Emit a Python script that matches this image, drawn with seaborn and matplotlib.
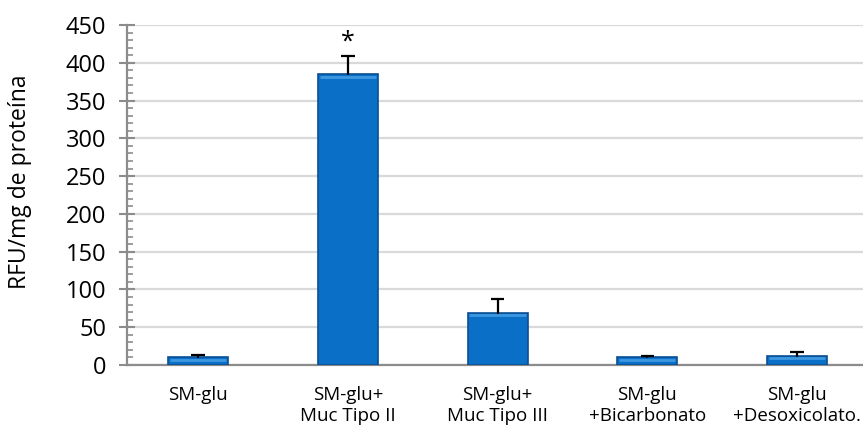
import matplotlib
matplotlib.use("Agg")
import matplotlib.pyplot as plt
import matplotlib.transforms as mtransforms
from matplotlib.ticker import MultipleLocator
import numpy as np
import pandas as pd
import seaborn as sns

# Medium conditions and measured fluorescence (mean and upper error)
categories = ["SM-glu", "SM-glu+\nMuc Tipo II", "SM-glu+\nMuc Tipo III",
              "SM-glu\n+Bicarbonato", "SM-glu\n+Desoxicolato."]
means = [10, 385, 69, 10, 12]
errors = [3, 24, 19, 2, 5]
marks = ["", "*", "", "", ""]

sns.set_theme(style="white")
plt.rcParams["font.family"] = ["Open Sans", "DejaVu Sans"]

df = pd.DataFrame({"cond": categories, "rfu": means})

fig = plt.figure(figsize=(8.63, 4.28), dpi=100)
ax = fig.add_axes([127 / 863, 63 / 428, (863 - 127) / 863, 340 / 428])

bar_color = "#0a6fc6"
sns.barplot(data=df, x="cond", y="rfu", color=bar_color, saturation=1,
            width=0.4, edgecolor="#0b4f93", linewidth=1.2, ax=ax, zorder=3)

# soft bevel highlight along the top of each bar
for p in ax.patches:
    x0, x1 = p.get_x(), p.get_x() + p.get_width()
    top = p.get_y() + p.get_height()
    off = mtransforms.offset_copy(ax.transData, fig=fig, x=0, y=-2.5, units="dots")
    ax.plot([x0 + 0.012, x1 - 0.012], [top, top], color="#3d98e0", lw=2.0,
            solid_capstyle="butt", transform=off, zorder=4)

# one-sided (upper) error bars starting at the bar top
xs = np.arange(len(categories))
cap = 0.045
for x, m, e in zip(xs, means, errors):
    ax.plot([x, x], [m, m + e], color="black", lw=1.6, zorder=5)
    ax.plot([x - cap, x + cap], [m + e, m + e], color="black", lw=1.6,
            solid_capstyle="butt", zorder=5)

for x, m, e, s in zip(xs, means, errors, marks):
    if s:
        ax.text(x, m + e + 2, s, ha="center", va="bottom", fontsize=18,
                color="black", zorder=6)

ax.set_ylim(0, 450)
ax.set_xlim(-0.474, 4.44)
ax.yaxis.set_major_locator(MultipleLocator(50))
ax.yaxis.set_minor_locator(MultipleLocator(10))
ax.grid(axis="y", which="major", color="#d9d9d9", lw=1.6, zorder=0)
ax.set_axisbelow(True)

for side in ["top", "right"]:
    ax.spines[side].set_visible(False)
for side in ["left", "bottom"]:
    ax.spines[side].set_color("#8c8c8c")
    ax.spines[side].set_linewidth(1.6)

ax.tick_params(axis="y", which="major", direction="inout", length=12,
               width=1.5, color="#8c8c8c", labelsize=17, labelcolor="black",
               left=True, pad=9)
ax.tick_params(axis="y", which="minor", direction="in", length=4.5,
               width=1.2, color="#8c8c8c", left=True)
ax.tick_params(axis="x", which="both", bottom=False, labelsize=13.5,
               labelcolor="black", pad=9)

ax.set_xlabel("")
ax.set_ylabel("RFU/mg de proteína", fontsize=16.5, color="black")
ax.yaxis.set_label_coords(-0.129, 0.538)

fig.savefig("out.png", dpi=100)
